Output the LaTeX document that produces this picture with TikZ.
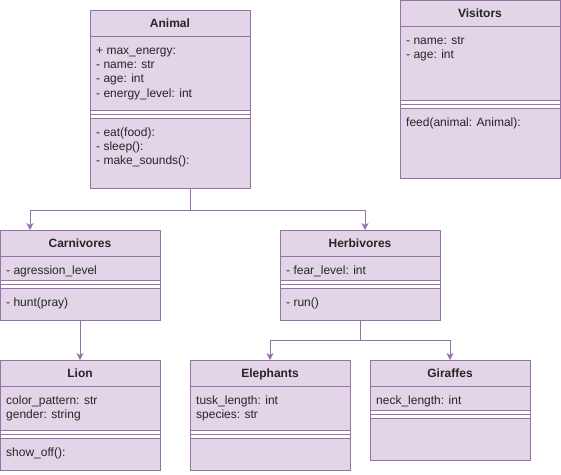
\documentclass[tikz,border=0pt]{standalone}
\usepackage{fontspec}
\setmainfont{Liberation Sans}
\usetikzlibrary{arrows.meta}
\definecolor{umlfill}{HTML}{E1D5E7}
\definecolor{umlstroke}{HTML}{9673A6}
\tikzset{
  umlline/.style={draw=umlstroke, line width=1pt},
  classbox/.style={draw=umlstroke, line width=1pt, fill=none, minimum width=160pt, inner sep=0pt, outer sep=0pt},
  titletxt/.style={font=\fontsize{12}{14}\selectfont\bfseries, inner sep=0pt, text=black!85},
  membertxt/.style={font=\fontsize{12}{14}\selectfont, inner sep=0pt, text=black!85},
  conn/.style={draw=umlstroke, line width=1pt, -{Stealth[length=7pt,width=7pt,inset=2pt]}},
}
% #1 id, #2 x, #3 top, #4 attr height, #5 method height, #6 title, #7 attrs, #8 methods
\newcommand\umlclass[8]{%
  \pgfmathsetmacro\hA{26+#4}%
  \pgfmathsetmacro\hT{26+#4+8+#5}%
  \fill[umlfill] (#2,#3) rectangle ++(160,\hT);
  \fill[white] (#2,#3+\hA) rectangle ++(160,8);
  \draw[umlline] (#2,#3+26) -- ++(160,0);
  \draw[umlline] (#2,#3+\hA) -- ++(160,0);
  \draw[umlline] (#2,#3+\hA+4) -- ++(160,0);
  \draw[umlline] (#2,#3+\hA+8) -- ++(160,0);
  \node[classbox, minimum height=\hT pt, anchor=north west] (#1) at (#2,#3) {};
  \node[titletxt, anchor=base] (#1-t) at (#2+80,#3+17.5) {#6};
  \foreach \s [count=\i] in {#7} {
    \node[membertxt, anchor=base west] (#1-a\i) at (#2+6,#3+26+3.6+14.4*\i) {\s};
  }
  \foreach \s [count=\i] in {#8} {
    \node[membertxt, anchor=base west] (#1-m\i) at (#2+6,#3+\hA+8+3.6+14.4*\i) {\s};
  }
}
\begin{document}
\begin{tikzpicture}[x=1pt,y=-1pt]
\useasboundingbox (0,0) rectangle (561,474);
\umlclass{animal}{90}{10}{74}{70}{Animal}{+ max\_energy:,- name: str,- age: int,- energy\_level: int}{- eat(food):,- sleep():,- make\_sounds():}
\umlclass{visitors}{400}{0}{74}{70}{Visitors}{- name: str,- age: int}{feed(animal: Animal):}
\umlclass{carn}{0}{230}{24}{32}{Carnivores}{- agression\_level}{- hunt(pray)}
\umlclass{herb}{280}{230}{24}{32}{Herbivores}{- fear\_level: int}{- run()}
\umlclass{lion}{0}{360}{44}{32}{Lion}{color\_pattern: str,gender: string}{show\_off():}
\umlclass{eleph}{190}{360}{44}{32}{Elephants}{tusk\_length: int,species: str}{}
\umlclass{gir}{370}{360}{24}{42}{Giraffes}{neck\_length: int}{}
% connectors
\coordinate (aj) at ([xshift=20pt]animal.south);
\draw[conn] (aj) -- ++(0,22) coordinate (aj2) -| ([xshift=-50pt]carn.north);
\draw[conn] (aj2) -| ([xshift=5pt]herb.north);
\draw[conn] (carn.south) -- (lion.north);
\draw[conn] (herb.south) -- ++(0,20) coordinate (hj) -| (eleph.north);
\draw[conn] (hj) -| (gir.north);
\end{tikzpicture}
\end{document}
